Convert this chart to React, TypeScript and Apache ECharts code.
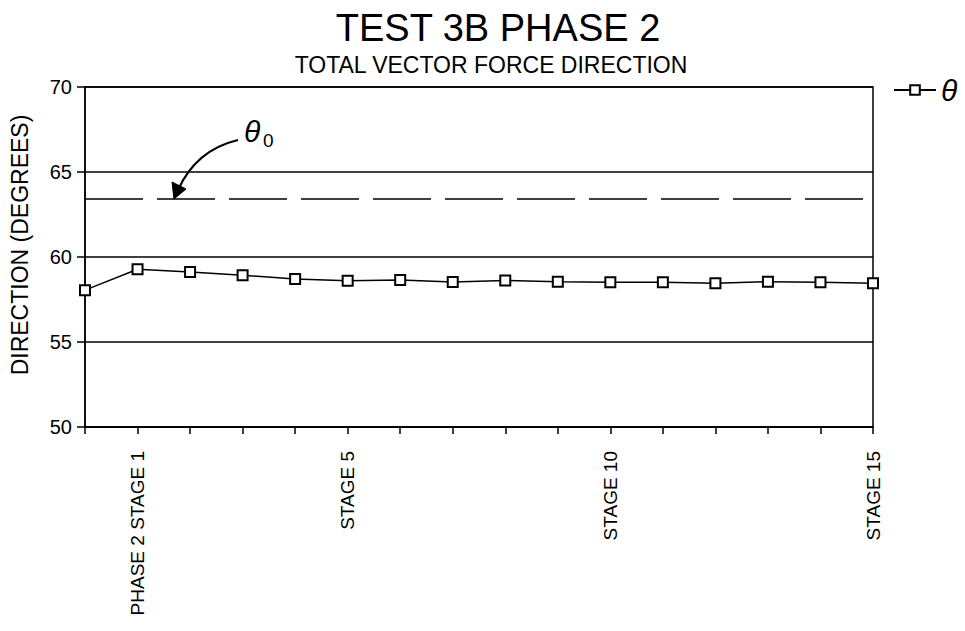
import React, { useEffect, useRef } from "react";
import * as echarts from "echarts";

// ---- data ----
const TITLE = "TEST 3B PHASE 2";
const SUBTITLE = "TOTAL VECTOR FORCE DIRECTION";
const Y_NAME = "DIRECTION (DEGREES)";
const SERIES_NAME = "θ";
const STAGES = [0, 1, 2, 3, 4, 5, 6, 7, 8, 9, 10, 11, 12, 13, 14, 15];
const THETA = [58.05, 59.28, 59.12, 58.93, 58.71, 58.61, 58.65, 58.53, 58.62, 58.55, 58.51, 58.51, 58.45, 58.55, 58.51, 58.45];
const THETA0 = 63.4;
const X_LABEL_POS = [1, 5, 10, 15];
const X_LABELS = ["PHASE 2 STAGE 1", "STAGE 5", "STAGE 10", "STAGE 15"];
const Y_MIN = 50;
const Y_MAX = 70;
const Y_STEP = 5;

const FONT = "Liberation Sans";

export default function App() {
  const ref = useRef<HTMLDivElement>(null);

  useEffect(() => {
    if (!ref.current) return;
    const chart = echarts.init(ref.current, null, { renderer: "svg" });
    const data = STAGES.map((s, i) => [s, THETA[i]]);

    const option: any = {
      animation: false,
      backgroundColor: "#ffffff",
      textStyle: { fontFamily: FONT, color: "#000" },
      title: [
        {
          text: TITLE,
          left: 493,
          top: 4,
          textAlign: "center",
          textStyle: { fontFamily: FONT, fontSize: 38, fontWeight: "normal", color: "#000" },
        },
        {
          text: SUBTITLE,
          left: 486,
          top: 48,
          textAlign: "center",
          textStyle: { fontFamily: FONT, fontSize: 23, fontWeight: "normal", color: "#000" },
        },
      ],
      legend: {
        left: 888,
        top: 70,
        itemWidth: 42,
        itemHeight: 12,
        data: [SERIES_NAME],
        textStyle: { fontFamily: FONT, fontSize: 30, fontStyle: "italic", color: "#000" },
      },
      grid: {
        left: 85,
        right: 92,
        top: 87,
        bottom: 204,
        show: true,
        borderColor: "#000",
        borderWidth: 1.5,
        backgroundColor: "transparent",
      },
      xAxis: {
        type: "value",
        min: 0,
        max: 15,
        interval: 1,
        axisLine: { show: true, lineStyle: { color: "#000", width: 1.5 } },
        axisTick: { show: true, length: 7, lineStyle: { color: "#000", width: 1.5 } },
        splitLine: { show: false },
        axisLabel: {
          rotate: 90,
          margin: 24,
          fontFamily: FONT,
          fontSize: 19,
          color: "#000",
          showMinLabel: true,
          showMaxLabel: true,
          formatter: (v: number) => {
            const idx = X_LABEL_POS.indexOf(Math.round(v));
            return idx >= 0 ? X_LABELS[idx] : "";
          },
        },
      },
      yAxis: {
        type: "value",
        min: Y_MIN,
        max: Y_MAX,
        interval: Y_STEP,
        axisLine: { show: true, lineStyle: { color: "#000", width: 1.5 } },
        axisTick: { show: true, length: 8, lineStyle: { color: "#000", width: 1.5 } },
        splitLine: { show: true, lineStyle: { color: "#000", width: 1.6, type: "solid" } },
        axisLabel: { margin: 13, fontFamily: FONT, fontSize: 20, color: "#000" },
      },
      series: [
        {
          name: SERIES_NAME,
          type: "line",
          data,
          symbol: "rect",
          symbolSize: 10,
          clip: false,
          lineStyle: { color: "#000", width: 1.5 },
          itemStyle: { color: "#fff", borderColor: "#000", borderWidth: 2 },
          markLine: {
            silent: true,
            symbol: ["none", "none"],
            label: { show: false },
            lineStyle: { color: "#000", width: 1.6, type: [58, 14] },
            data: [{ yAxis: THETA0 }],
          },
        },
      ],
      graphic: [
        {
          type: "text",
          x: 20,
          y: 245,
          rotation: Math.PI / 2,
          style: {
            text: Y_NAME,
            fontFamily: FONT,
            fontSize: 23,
            fill: "#000",
            textAlign: "center",
            textVerticalAlign: "middle",
          },
        },
        {
          type: "text",
          x: 244,
          y: 116,
          style: {
            text: "θ",
            fontFamily: FONT,
            fontSize: 30,
            fontStyle: "italic",
            fill: "#000",
            textAlign: "left",
            textVerticalAlign: "top",
          },
        },
        {
          type: "text",
          x: 263,
          y: 131,
          style: {
            text: "0",
            fontFamily: FONT,
            fontSize: 19,
            fill: "#000",
            textAlign: "left",
            textVerticalAlign: "top",
          },
        },
        {
          type: "bezierCurve",
          shape: { x1: 238, y1: 140, x2: 178, y2: 190, cpx1: 196, cpy1: 150 },
          style: { stroke: "#000", lineWidth: 2.2, fill: "none" },
        },
        {
          type: "polygon",
          shape: { points: [[174, 199], [172, 182], [186, 189]] },
          style: { fill: "#000", stroke: "#000", lineWidth: 1 },
        },
      ],
    };

    chart.setOption(option);
    return () => chart.dispose();
  }, []);

  return (
    <div
      ref={ref}
      style={{ position: "fixed", left: 0, top: 0, width: 965, height: 631, background: "#fff" }}
    />
  );
}
